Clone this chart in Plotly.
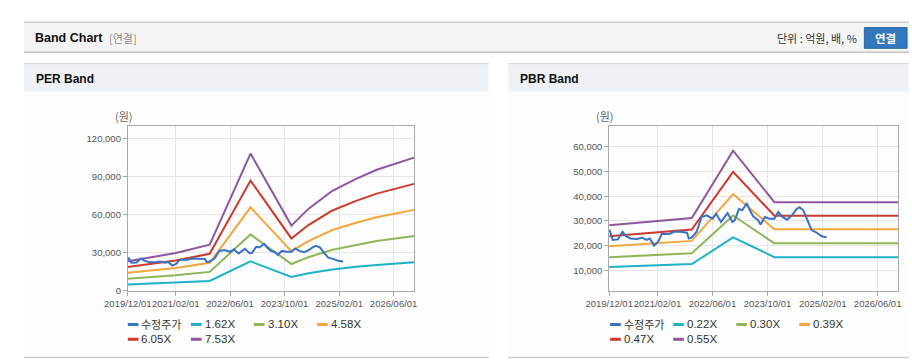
import plotly.graph_objects as go

W, H = 912, 364

# ---------------- data ----------------
price_dates = ["2019-12-04", "2020-01-01", "2020-02-15", "2020-03-28", "2020-04-25", "2020-06-07",
               "2020-08-04", "2020-09-16", "2020-10-28", "2020-11-25", "2021-01-01", "2021-02-07",
               "2021-03-10", "2021-05-16", "2021-06-28", "2021-08-25", "2021-10-19", "2021-11-04",
               "2021-12-01", "2022-01-13", "2022-02-25", "2022-04-10", "2022-06-04", "2022-07-04",
               "2022-08-16", "2022-10-13", "2022-11-25", "2022-12-16", "2023-01-22", "2023-02-19",
               "2023-04-01", "2023-04-28", "2023-05-28", "2023-07-10", "2023-08-01", "2023-09-07",
               "2023-10-19", "2023-12-01", "2024-01-04", "2024-02-10", "2024-03-22", "2024-05-04",
               "2024-06-16", "2024-07-10", "2024-08-13", "2024-09-16", "2024-10-25", "2024-12-07",
               "2025-01-19", "2025-03-07"]
price_values = [26500, 22300, 22500, 25600, 23900, 22900,
                22700, 23200, 22300, 22900, 20000, 21600,
                24700, 24700, 25600, 25600, 25200, 22900,
                23300, 25600, 31600, 32300, 30900, 32900,
                29600, 33200, 29600, 30300, 34900, 34300,
                37200, 34300, 31900, 30300, 28500, 31600,
                30900, 30900, 33600, 31600, 30500, 32300,
                34900, 35600, 34300, 30300, 26300, 25300,
                23900, 23300]

per_dates = ["2019-12-01", "2021-02-01", "2021-12-01", "2022-12-01", "2023-12-01",
             "2024-05-01", "2024-12-01", "2025-07-01", "2026-01-01", "2026-12-01"]
per_162 = [5050, 6430, 7860, 23330, 11100, 13930, 17010, 19040, 20570, 22630]
per_310 = [9670, 12310, 15040, 44640, 21240, 26660, 32550, 36430, 39370, 43310]
per_458 = [14290, 18180, 22210, 65950, 31370, 39390, 48090, 53820, 58170, 63980]
per_605 = [18880, 24020, 29340, 87120, 41440, 52030, 63530, 71090, 76840, 84520]
per_753 = [23490, 29890, 36520, 108430, 51580, 64760, 79070, 88480, 95630, 105190]
per_labels = ["수정주가", "1.62X", "3.10X", "4.58X", "6.05X", "7.53X"]

pbr_dates = ["2019-12-01", "2021-12-01", "2022-12-01", "2023-12-01", "2026-12-01"]
pbr_022 = [11300, 12500, 23300, 15300, 15300]
pbr_030 = [15300, 16900, 32200, 20900, 20900]
pbr_039 = [19700, 21900, 40900, 26600, 26600]
pbr_047 = [23800, 26500, 49900, 32100, 32100]
pbr_055 = [28200, 31200, 58500, 37600, 37600]
pbr_labels = ["수정주가", "0.22X", "0.30X", "0.39X", "0.47X", "0.55X"]

x_tickvals = ["2019-12-01", "2021-02-01", "2022-06-01", "2023-10-01", "2025-02-01", "2026-06-01"]
x_ticktext = ["2019/12/01", "2021/02/01", "2022/06/01", "2023/10/01", "2025/02/01", "2026/06/01"]
per_yticks = [0, 30000, 60000, 90000, 120000]
pbr_yticks = [10000, 20000, 30000, 40000, 50000, 60000]

colors = ["#3a72c2", "#1db2c8", "#8fb556", "#f2a63b", "#cb3a2d", "#8f559f"]

# ---------------- helpers ----------------
def px(x):
    return x / W

def py(y):
    return 1 - y / H

LAT = "Liberation Sans, Arial, sans-serif"
KR = "Noto Sans CJK KR, Noto Sans, sans-serif"

fig = go.Figure()

per_series = [(price_dates, price_values), (per_dates, per_162), (per_dates, per_310),
              (per_dates, per_458), (per_dates, per_605), (per_dates, per_753)]
pbr_series = [(price_dates, price_values), (pbr_dates, pbr_022), (pbr_dates, pbr_030),
              (pbr_dates, pbr_039), (pbr_dates, pbr_047), (pbr_dates, pbr_055)]

order = [1, 2, 3, 4, 5, 0]
for i in order:
    d, v = per_series[i]
    fig.add_trace(go.Scatter(x=d, y=v, mode="lines", name=per_labels[i],
                             line=dict(color=colors[i], width=2), xaxis="x", yaxis="y",
                             showlegend=False, hoverinfo="skip"))
for i in order:
    d, v = pbr_series[i]
    fig.add_trace(go.Scatter(x=d, y=v, mode="lines", name=pbr_labels[i],
                             line=dict(color=colors[i], width=2), xaxis="x2", yaxis="y2",
                             showlegend=False, hoverinfo="skip"))

axis_common = dict(showline=True, mirror=True, linecolor="#a9a9a9", linewidth=1,
                   showgrid=True, gridcolor="#e6e6e6", gridwidth=1, zeroline=False,
                   ticks="outside", ticklen=4, tickcolor="#a9a9a9", tickangle=0,
                   fixedrange=True,
                   tickfont=dict(family=LAT, size=9.5, color="#555555"))

y_dom = [py(295), py(128)]
fig.update_layout(
    width=W, height=H, autosize=False,
    margin=dict(l=0, r=0, t=0, b=0, pad=0),
    paper_bgcolor="white", plot_bgcolor="white",
    xaxis=dict(domain=[px(107), px(402)], type="date", range=["2019-12-01", "2026-12-01"],
               tickvals=x_tickvals, ticktext=x_ticktext, anchor="y", **axis_common),
    yaxis=dict(domain=y_dom, range=[0, 130000], tickvals=per_yticks, tickformat=",",
               anchor="x", **axis_common),
    xaxis2=dict(domain=[px(603), px(901)], type="date", range=["2019-12-01", "2026-12-01"],
                tickvals=x_tickvals, ticktext=x_ticktext, anchor="y2", **axis_common),
    yaxis2=dict(domain=y_dom, range=[1600, 68400], tickvals=pbr_yticks, tickformat=",",
                anchor="x2", **axis_common),
    showlegend=False,
)

shapes = []
annotations = []

def rect(x0, y0, x1, y1, fill, line_color=None, width=0):
    shapes.append(dict(type="rect", xref="paper", yref="paper", layer="below",
                       x0=px(x0), x1=px(x1), y0=py(y1), y1=py(y0), fillcolor=fill,
                       line=dict(width=width, color=line_color or fill)))

def hline(x0, x1, y, color, width=1, layer="below"):
    shapes.append(dict(type="line", xref="paper", yref="paper", layer=layer,
                       x0=px(x0), x1=px(x1), y0=py(y), y1=py(y),
                       line=dict(color=color, width=width)))

def text(x, y, s, size=12, color="#222", family=KR, bold=False, xanchor="left"):
    if bold:
        s = "<b>" + s + "</b>"
    annotations.append(dict(xref="paper", yref="paper", x=px(x), y=py(y), text=s,
                            showarrow=False, xanchor=xanchor, yanchor="middle",
                            font=dict(size=size, color=color, family=family)))

# top header bar
rect(0, 22, 912, 53, "#f4f4f4")
hline(0, 912, 22.5, "#b8b8b8")
hline(0, 912, 53, "#c4c4c4", 1.5)
text(9, 38.5, "Band Chart", size=12.5, color="#111", family=LAT, bold=True)
text(86, 38.5, "[연결]", size=11, color="#8a8a8a")
text(860, 38.5, "단위 : 억원, 배, %", size=11, color="#333", xanchor="right")
shapes.append(dict(type="rect", xref="paper", yref="paper", layer="above",
                   x0=px(866), x1=px(910), y0=py(49), y1=py(28),
                   fillcolor="#3377bd", line=dict(color="#2a66a8", width=1)))
text(888, 38.5, "연결", size=11.5, color="white", bold=True, xanchor="center")

# panels
for (x0, x1, title) in [(0, 479, "PER Band"), (499, 912, "PBR Band")]:
    rect(x0, 64, x1, 363, "#fdfdfd")
    rect(x0, 64.5, x1, 93, "#eef2f7")
    hline(x0, x1, 64.5, "#d6d6d6")
    hline(x0, x1, 362.5, "#cfcfcf", 1.5)
    text(x0 + 10, 80, title, size=12, color="#111", family=LAT, bold=True)

text(103, 118, "(원)", size=11, color="#666", xanchor="center")
text(599, 118, "(원)", size=11, color="#666", xanchor="center")

# legends
def legend(left, labels):
    offs = [0, 65, 130, 195, 0, 65]
    rows = [329, 329, 329, 329, 344, 344]
    for i, lab in enumerate(labels):
        x = left + offs[i]
        y = rows[i]
        shapes.append(dict(type="line", xref="paper", yref="paper", layer="above",
                           x0=px(x), x1=px(x + 11), y0=py(y), y1=py(y),
                           line=dict(color=colors[i], width=3)))
        if i == 0:
            text(x + 12, y, lab, size=11, color="#333", family=KR)
        else:
            text(x + 12, y, lab, size=11.5, color="#333", family=LAT)

legend(107, per_labels)
legend(604, pbr_labels)

fig.update_layout(shapes=shapes, annotations=annotations)

fit_css = ("var s=document.createElement('style');"
           "s.innerHTML='html,body{margin:0!important;padding:0!important;overflow:hidden!important;"
           "width:912px!important;height:364px!important;}"
           "body>div{width:912px;height:364px;overflow:hidden;line-height:0;}';"
           "document.head.appendChild(s);")
fig.write_html("out.html", config={"displayModeBar": False, "staticPlot": True},
               post_script=fit_css)
